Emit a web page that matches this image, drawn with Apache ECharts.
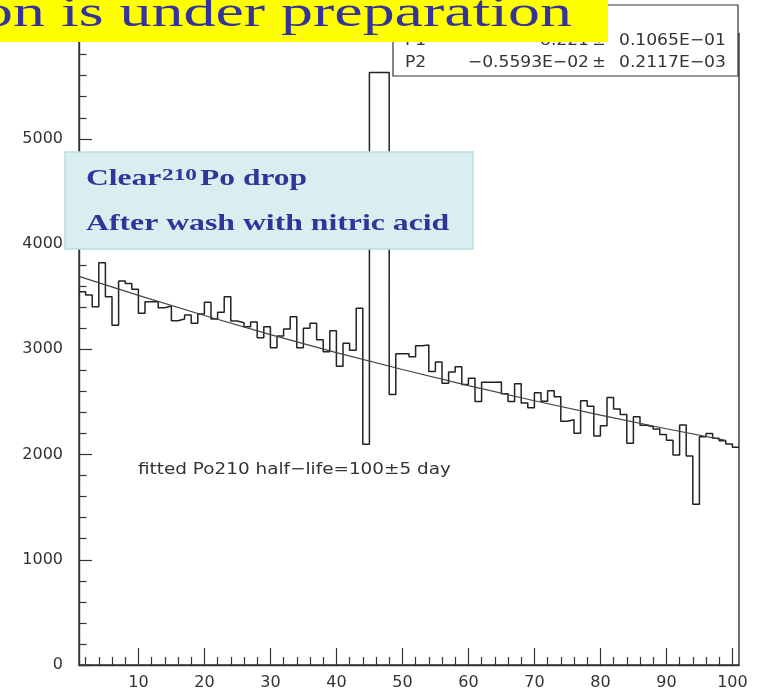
<!DOCTYPE html>
<html><head><meta charset="utf-8">
<script src="https://cdn.jsdelivr.net/npm/echarts@6/dist/echarts.min.js"></script>
<style>html,body{margin:0;padding:0;background:#fff}#c{width:757px;height:698px}</style>
</head><body><div id="c"></div>
<script>
// bin lower edges (day), width 1 day
const days = [1,2,3,4,5,6,7,8,9,10,11,12,13,14,15,16,17,18,19,20,
  21,22,23,24,25,26,27,28,29,30,31,32,33,34,35,36,37,38,39,40,
  41,42,43,44,45,46,47,48,49,50,51,52,53,54,55,56,57,58,59,60,
  61,62,63,64,65,66,67,68,69,70,71,72,73,74,75,76,77,78,79,80,
  81,82,83,84,85,86,87,88,89,90,91,92,93,94,95,96,97,98,99,100];
const lastEdge = 101;
const counts = [3547,3515,3404,3822,3500,3228,3648,3626,3570,3342,
  3452,3452,3395,3411,3272,3288,3326,3247,3335,3446,
  3288,3351,3500,3269,3253,3215,3259,3110,3215,3015,
  3126,3193,3310,3015,3199,3247,3090,2977,3177,2840,
  3057,2990,3389,2098,5630,5630,5630,2570,2958,2958,
  2930,3034,3041,2790,2880,2677,2785,2835,2665,2725,
  2503,2688,2687,2690,2578,2503,2673,2490,2445,2588,
  2506,2605,2550,2316,2330,2203,2510,2458,2177,2273,
  2541,2433,2380,2108,2360,2278,2265,2243,2190,2135,
  1996,2281,1987,1528,2168,2200,2155,2130,2100,2070];
const fitDays   = [1,10,20,30,40,50,60,70,80,90,99];
const fitValues = [3693,3512,3321,3140,2969,2808,2655,2511,2374,2245,2135];
const xMajorTicks = [10,20,30,40,50,60,70,80,90,100];
const xMinorTicks = [2,4,6,8,12,14,16,18,22,24,26,28,32,34,36,38,42,44,46,48,
  52,54,56,58,62,64,66,68,72,74,76,78,82,84,86,88,92,94,96,98];
const statNames  = ['P1','P2'];
const statValues = ['8.221','\u22120.5593E\u221202'];
const statErrors = ['0.1065E\u221201','0.2117E\u221203'];
const bannerText = 'on is under preparation';
const noteLine1 = ['Clear','210','Po drop'];
const noteLine2 = 'After wash with nitric acid';
const fitNote = 'fitted Po210 half\u2212life=100\u00b15 day';

const histData = days.map((d,i)=>[d, counts[i]]);
histData.push([lastEdge, counts[counts.length-1]]);
const fitData = fitDays.map((d,i)=>[d, fitValues[i]]);

const AX = '#333';
const chart = echarts.init(document.getElementById('c'), null, {renderer:'canvas'});
const sans = 'DejaVu Sans';
const serifB = 'bold 23px "Liberation Serif"';
function txt(x,y,text,font,fill,align,sx,z){
  return {type:'text', x:x, y:y, scaleX:sx||1, z:z||100,
    style:{text:text, font:font, fill:fill, align:align, textAlign:align,
      verticalAlign:'middle', textVerticalAlign:'middle'}};
}
const statsEls = [];
statNames.forEach((n,i)=>{
  const y = [41.3, 62.8][i];
  statsEls.push(txt(405,y,n,'16px "DejaVu Sans"',AX,'left',1.07,102));
  statsEls.push(txt(589,y,statValues[i],'16px "DejaVu Sans"',AX,'right',1.07,102));
  statsEls.push(txt(599,y,'\u00b1','16px "DejaVu Sans"',AX,'center',1,102));
  statsEls.push(txt(619,y,statErrors[i],'16px "DejaVu Sans"',AX,'left',1.07,102));
});

chart.setOption({
  animation:false,
  backgroundColor:'#fff',
  grid:{left:79, right:18, top:33.6, bottom:33, show:true, borderColor:AX, borderWidth:1.4,
    backgroundColor:'transparent', outerBoundsMode:'none', containLabel:false},
  xAxis:[{
    type:'value', min:1, max:lastEdge,
    axisLine:{show:true, onZero:false, lineStyle:{color:AX, width:1.4}},
    axisTick:{show:true, inside:true, length:17, customValues:xMajorTicks, lineStyle:{color:AX, width:1.2}},
    axisLabel:{show:true, customValues:xMajorTicks, color:AX, fontFamily:sans, fontSize:16, margin:10,
      formatter:(v)=>String(v)},
    splitLine:{show:false}
  },{
    type:'value', min:1, max:lastEdge, position:'bottom',
    axisLine:{show:false, onZero:false},
    axisTick:{show:true, inside:true, length:8, customValues:xMinorTicks, lineStyle:{color:AX, width:1.2}},
    axisLabel:{show:false}, splitLine:{show:false}
  }],
  yAxis:{
    type:'value', min:0, max:6000, interval:1000,
    axisLine:{show:true, lineStyle:{color:AX, width:1.4}},
    axisTick:{show:true, inside:true, length:13, lineStyle:{color:AX, width:1.2}},
    minorTick:{show:true, splitNumber:5, length:7.5, lineStyle:{color:AX, width:1.2}},
    axisLabel:{color:AX, fontFamily:sans, fontSize:16, margin:16, showMaxLabel:false,
      formatter:(v)=>String(v)},
    splitLine:{show:false}
  },
  series:[{
    type:'line', data:histData, step:'end', symbol:'none', xAxisIndex:0,
    lineStyle:{color:'#222', width:1.5}, z:3
  },{
    type:'line', data:fitData, symbol:'none', xAxisIndex:0, smooth:false,
    lineStyle:{color:'#444', width:1.2}, z:4
  }],
  graphic:{elements:[
    {type:'rect', z:100, shape:{x:393, y:5, width:345, height:71},
      style:{fill:'#fff', stroke:AX, lineWidth:1.2}},
    ...statsEls,
    {type:'rect', z:110, shape:{x:0, y:0, width:608, height:42}, style:{fill:'#ffff00'}},
    txt(572, 14, bannerText, '45px "Liberation Serif"', '#333399', 'right', 1.42, 111),
    {type:'rect', z:100, shape:{x:65, y:152, width:408, height:97},
      style:{fill:'#daedef', stroke:'#b8dde1', lineWidth:1.5}},
    txt(86, 179.5, noteLine1[0], serifB, '#333399', 'left', 1.37, 101),
    txt(162, 176, noteLine1[1], 'bold 17px "Liberation Serif"', '#333399', 'left', 1.37, 101),
    txt(200, 179.5, noteLine1[2], serifB, '#333399', 'left', 1.37, 101),
    txt(86, 224.5, noteLine2, serifB, '#333399', 'left', 1.38, 101),
    txt(138, 470, fitNote, '16px "DejaVu Sans"', AX, 'left', 1.15, 101)
  ]}
});
</script></body></html>
